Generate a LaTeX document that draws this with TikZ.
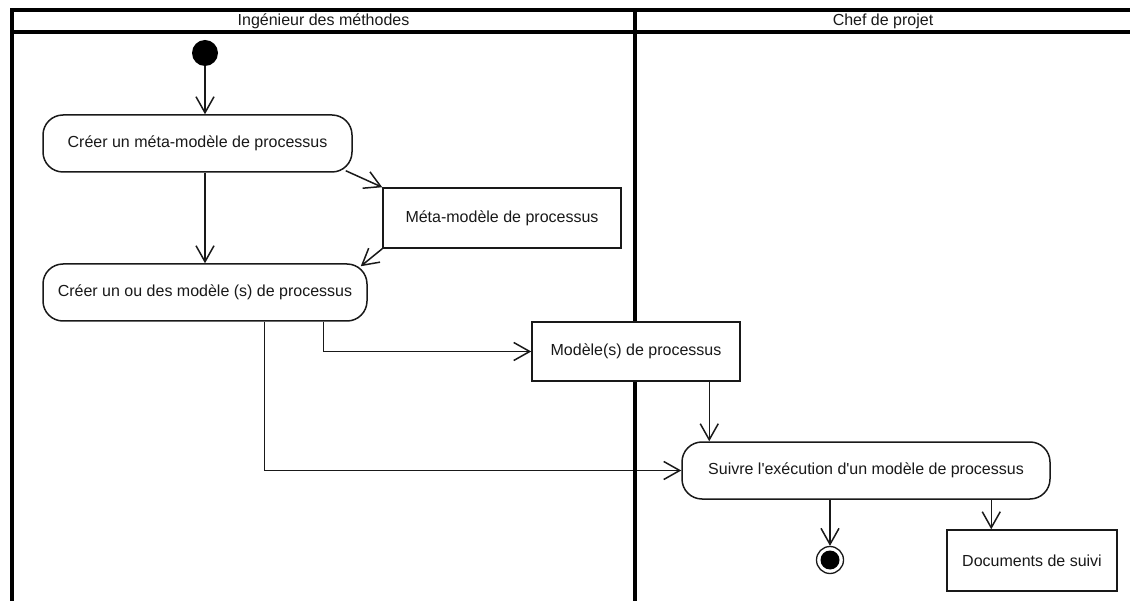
\documentclass[tikz,border=0pt]{standalone}
\usepackage{fontspec}
\setmainfont{Liberation Sans}
\newfontfamily\arial{Liberation Sans}
\usetikzlibrary{arrows.meta,calc}
\begin{document}
\begin{tikzpicture}[x=1pt,y=-1pt,
  lane/.style={line width=3.2pt, black},
  hdr/.style={font=\arial\fontsize{16}{19}\selectfont, text=black!90},
  act/.style={draw=black!90, fill=white, line width=1.5pt, rounded corners=20pt,
    minimum height=57pt, inner sep=0pt, text=black!90, font=\arial\fontsize{16}{19}\selectfont},
  obj/.style={draw=black!90, fill=white, line width=1.5pt, inner sep=0pt,
    text=black!90, font=\arial\fontsize{16}{19}\selectfont},
  flow/.style={draw=black!90, line width=1.5pt,
    -{Straight Barb[length=16pt,width=18pt]}}]
\useasboundingbox (0,0) rectangle (1130,601);
\fill[white] (0,0) rectangle (1130,601);
% swimlanes
\draw[lane] (12,601) -- (12,10) -- (1134,10);
\draw[lane] (12,32) -- (1134,32);
\node[hdr] (h1) at (323.5,21) {Ingénieur des méthodes};
\node[hdr] (h2) at (883,21) {Chef de projet};
% nodes
\node[circle, fill=black, minimum size=26pt, inner sep=0pt] (start) at (205,53) {};
\node[act, minimum width=309pt] (a1) at (197.5,143.5) {Créer un méta-modèle de processus};
\node[obj, minimum width=238pt, minimum height=60pt] (meta) at (502,218) {Méta-modèle de processus};
\node[act, minimum width=324pt] (a2) at (205,292.5) {Créer un ou des modèle (s) de processus};
\node[act, minimum width=368pt] (a3) at (866,470.5) {Suivre l'exécution d'un modèle de processus};
\node[circle, draw=black!90, line width=1.3pt, minimum size=27pt, inner sep=0pt,
  path picture={\fill[black] (path picture bounding box.center) circle (9.5pt);}] (end) at (830,560) {};
\node[obj, minimum width=170pt, minimum height=61pt] (docs) at (1032,560.5) {Documents de suivi};
% connectors
\draw[flow] (start) -- (start |- a1.north);
\draw[flow] (start |- a1.south) -- (start |- a2.north);
\draw[flow] ($(a1.south east)+(-7,-2)$) -- (meta.north west);
\draw[flow] (meta.south west) -- ($(a2.north east)+(-7,3)$);
\draw[flow] ($(a2.south west)+(222,0)$) |- (a3.west);
% lane divider (drawn over the long connector)
\draw[lane] (635,10) -- (635,601);
\node[obj, minimum width=208pt, minimum height=59pt] (mod) at (636,351.5) {Modèle(s) de processus};
\draw[flow] ($(a2.south west)+(281,0)$) |- (mod.west);
\coordinate (m1) at ($(mod.south west)+(178,0)$);
\draw[flow] (m1) -- (m1 |- a3.north);
\draw[flow] (a3.south -| end) -- (end);
\coordinate (d1) at ($(docs.north west)+(45,0)$);
\draw[flow] (d1 |- a3.south) -- (d1);
\end{tikzpicture}
\end{document}
